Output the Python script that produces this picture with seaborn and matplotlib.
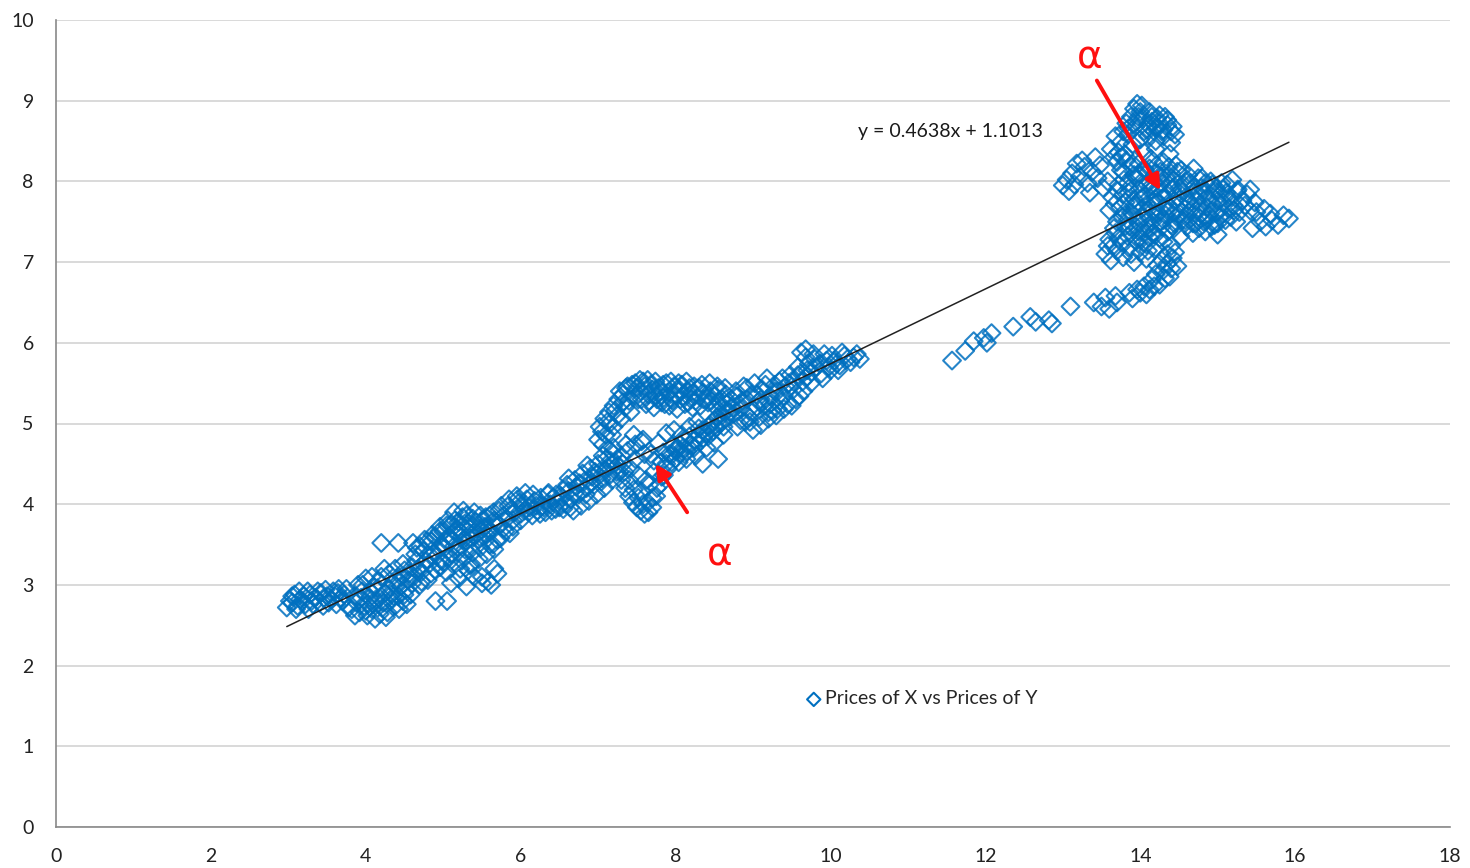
import numpy as np
import pandas as pd
import matplotlib
matplotlib.use("Agg")
import matplotlib.pyplot as plt
import seaborn as sns

# ---- price pairs (X price, Y price), grouped along the path ----
x_start = [2.98, 3.05, 3.10, 3.15, 3.22, 3.28, 3.35, 3.42, 3.50, 3.58, 3.65, 3.72,
           3.02, 3.12, 3.20, 3.30, 3.40, 3.48, 3.55, 3.62, 3.70, 3.78,
           3.08, 3.25, 3.45, 3.60, 3.75,
           3.05, 3.18, 3.32, 3.38, 3.52, 3.68, 3.14, 3.26, 3.46, 3.64]
y_start = [2.72, 2.78, 2.70, 2.82, 2.76, 2.88, 2.84, 2.90, 2.86, 2.92, 2.95, 2.88,
           2.80, 2.74, 2.86, 2.80, 2.78, 2.94, 2.82, 2.76, 2.80, 2.72,
           2.88, 2.92, 2.74, 2.86, 2.95,
           2.86, 2.80, 2.76, 2.92, 2.78, 2.84, 2.92, 2.70, 2.84, 2.90]

x_low = [3.82, 3.88, 3.92, 3.98, 4.02, 4.08, 4.12, 4.18, 4.22, 4.28, 4.32, 4.38, 4.42, 4.48, 4.52, 4.58,
         3.85, 3.95, 4.05, 4.15, 4.25, 4.35, 4.45, 4.55,
         3.90, 4.00, 4.10, 4.20, 4.30, 4.40, 4.50, 4.60,
         4.03, 4.13, 4.23, 4.33, 4.43, 4.53,
         4.20, 4.42, 4.61,
         3.86, 3.94, 4.00, 4.06, 4.10, 4.16, 4.20, 4.26, 4.30, 4.36, 4.40, 4.46, 4.50, 4.56, 4.60,
         3.96, 4.08, 4.24, 4.38, 4.48]
y_low = [2.70, 2.78, 2.66, 2.74, 2.62, 2.70, 2.58, 2.64, 2.72, 2.66, 2.80, 2.74, 2.86, 2.80, 2.94, 2.88,
         2.86, 2.92, 2.84, 2.96, 2.90, 3.02, 2.98, 3.06,
         3.00, 3.08, 2.98, 3.10, 3.14, 3.08, 3.18, 3.22,
         2.76, 2.82, 2.78, 2.88, 2.70, 2.76,
         3.52, 3.52, 3.52,
         2.62, 2.84, 2.68, 2.92, 2.76, 3.04, 2.86, 2.60, 2.94, 2.86, 2.98, 3.10, 2.88, 3.14, 3.02,
         3.00, 3.10, 3.20, 3.20, 3.26]

x_mid1 = [4.62, 4.68, 4.72, 4.78, 4.82, 4.88, 4.92, 4.98, 5.02, 5.08, 5.12, 5.18, 5.22, 5.28, 5.32, 5.38, 5.42, 5.48,
          4.65, 4.75, 4.85, 4.95, 5.05, 5.15, 5.25, 5.35, 5.45,
          4.70, 4.80, 4.90, 5.00, 5.10, 5.20, 5.30, 5.40, 5.50,
          4.66, 4.76, 4.86, 4.96, 5.06, 5.16, 5.26, 5.36, 5.46,
          4.90, 5.05, 5.10, 5.20, 5.30, 5.40, 5.50, 5.22, 5.35,
          4.64, 4.70, 4.74, 4.80, 4.84, 4.90, 4.94, 5.00, 5.04, 5.10, 5.14, 5.20, 5.24, 5.30,
          5.34, 5.40, 5.44, 5.50, 4.72, 4.84, 4.96, 5.08, 5.18, 5.28, 5.38, 5.48, 5.14, 5.26,
          4.98, 5.12, 5.24, 5.36, 5.46, 5.56, 5.66, 5.04, 5.32]
y_mid1 = [3.10, 3.20, 3.16, 3.30, 3.26, 3.40, 3.36, 3.50, 3.46, 3.60, 3.56, 3.70, 3.66, 3.76, 3.72, 3.82, 3.78, 3.86,
          3.30, 3.42, 3.54, 3.66, 3.74, 3.80, 3.84, 3.64, 3.70,
          3.00, 3.06, 3.18, 3.28, 3.38, 3.46, 3.54, 3.60, 3.68,
          3.46, 3.56, 3.62, 3.72, 3.80, 3.66, 3.56, 3.48, 3.56,
          2.80, 2.80, 3.02, 3.08, 2.98, 3.10, 3.02, 3.20, 3.24,
          3.38, 3.48, 3.26, 3.54, 3.36, 3.60, 3.44, 3.66, 3.54, 3.74, 3.48, 3.78, 3.60, 3.86,
          3.58, 3.90, 3.64, 3.80, 3.04, 3.14, 3.22, 3.34, 3.40, 3.44, 3.40, 3.46, 3.90, 3.92,
          3.30, 3.26, 3.30, 3.26, 3.32, 3.38, 3.44, 3.16, 3.18]

x_mid2 = [5.52, 5.58, 5.62, 5.68, 5.72, 5.78, 5.82, 5.88, 5.92, 5.98, 6.02, 6.08, 6.12, 6.18, 6.22, 6.28, 6.32, 6.38, 6.42, 6.48,
          5.55, 5.65, 5.75, 5.85, 5.95, 6.05, 6.15, 6.25, 6.35, 6.45,
          5.60, 5.70, 5.80, 5.90, 6.00,
          5.50, 5.58, 5.66,
          5.54, 5.60, 5.66, 5.72, 5.78, 5.84, 5.90, 5.96, 6.00, 6.06, 6.10, 6.16, 6.20, 6.26, 6.30, 6.36,
          6.40, 6.46, 5.56, 5.64, 5.74, 5.86, 5.70, 5.62]
y_mid2 = [3.60, 3.70, 3.66, 3.78, 3.74, 3.86, 3.82, 3.94, 3.90, 4.02, 3.98, 4.06, 3.96, 4.04, 3.92, 3.98, 3.90, 4.00, 4.08, 4.02,
          3.84, 3.90, 3.98, 4.06, 4.10, 3.92, 3.86, 3.88, 4.12, 3.94,
          3.50, 3.56, 3.66, 3.72, 3.80,
          3.10, 3.04, 3.20,
          3.72, 3.86, 3.80, 3.92, 3.70, 3.98, 3.80, 4.06, 3.88, 4.14, 3.90, 4.12, 3.98, 4.08, 3.96, 4.14,
          3.92, 4.12, 3.62, 3.50, 3.58, 3.64, 3.14, 3.00]

x_mid3 = [6.52, 6.58, 6.62, 6.68, 6.72, 6.78, 6.82, 6.88, 6.92, 6.98, 7.02, 7.08, 7.12, 7.18, 7.22, 7.28,
          6.55, 6.65, 6.75, 6.85, 6.95, 7.05, 7.15, 7.25,
          6.60, 6.70, 6.80, 6.90, 7.00, 7.10, 7.20,
          6.50, 6.56, 6.64, 6.70, 6.76, 6.84, 6.90, 6.96, 7.04, 7.10, 7.16, 7.24, 7.30,
          6.62, 6.86, 7.06, 7.20]
y_mid3 = [4.10, 4.00, 4.16, 3.92, 4.22, 3.98, 4.28, 4.04, 4.34, 4.12, 4.40, 4.20, 4.46, 4.30, 4.52, 4.40,
          3.94, 4.06, 4.12, 4.20, 4.24, 4.32, 4.36, 4.48,
          4.24, 4.30, 4.38, 4.44, 4.50, 4.56, 4.62,
          3.96, 4.18, 3.96, 4.14, 4.26, 4.12, 4.26, 4.40, 4.28, 4.42, 4.54, 4.40, 4.60,
          4.32, 4.48, 4.60, 4.70]

x_upper_arm = [7.00, 7.05, 7.10, 7.15, 7.20, 7.25, 7.30, 7.35, 7.40, 7.45, 7.50, 7.55, 7.60, 7.65, 7.70, 7.75, 7.80,
               7.85, 7.90, 7.95, 8.00, 8.05, 8.10, 8.15, 8.20, 8.25, 8.30, 8.35, 8.40, 8.45, 8.50, 8.55, 8.60, 8.65,
               7.12, 7.22, 7.32, 7.42, 7.52, 7.62, 7.72, 7.82, 7.92, 8.02, 8.12, 8.22, 8.32, 8.42, 8.52, 8.62,
               7.28, 7.38, 7.48, 7.58, 7.68, 7.78, 7.88, 7.98, 8.08, 8.18,
               7.02, 7.08, 7.14, 7.20, 7.26, 7.32, 7.36, 7.44, 7.54, 7.64, 7.74, 7.84, 7.94, 8.04, 8.14,
               8.24, 8.34, 8.44, 8.54, 8.64, 7.56, 7.66, 7.76, 7.86, 7.96, 8.06, 8.16, 8.26, 8.36, 8.46,
               8.56, 8.66, 7.18, 7.06, 7.14]
y_upper_arm = [4.80, 4.90, 4.86, 5.00, 4.96, 5.10, 5.06, 5.20, 5.28, 5.36, 5.44, 5.40, 5.46, 5.36, 5.42, 5.34, 5.40,
               5.32, 5.38, 5.30, 5.36, 5.42, 5.34, 5.40, 5.30, 5.36, 5.44, 5.38, 5.30, 5.40, 5.34, 5.42, 5.30, 5.36,
               5.02, 5.16, 5.26, 5.14, 5.30, 5.24, 5.20, 5.26, 5.22, 5.18, 5.24, 5.20, 5.22, 5.26, 5.20, 5.16,
               5.40, 5.46, 5.50, 5.52, 5.48, 5.44, 5.50, 5.46, 5.48, 5.44,
               4.96, 5.06, 5.14, 5.22, 5.30, 5.36, 5.44, 5.48, 5.54, 5.54, 5.52, 5.48, 5.52, 5.50, 5.52,
               5.46, 5.48, 5.50, 5.46, 5.44, 5.30, 5.28, 5.30, 5.24, 5.28, 5.30, 5.26, 5.28, 5.30, 5.28,
               5.26, 5.24, 4.86, 4.74, 4.68]

x_lower_arm = [7.30, 7.35, 7.40, 7.45, 7.50, 7.55, 7.60, 7.65, 7.70, 7.75, 7.80, 7.85, 7.90, 7.95, 8.00, 8.05, 8.10,
               8.15, 8.20, 8.25, 8.30, 8.35, 8.40, 8.45, 8.50, 8.55, 8.60, 8.65, 8.70,
               7.32, 7.42, 7.52, 7.62, 7.72, 7.82, 7.92, 8.02, 8.12, 8.22, 8.32, 8.42, 8.52, 8.62,
               7.38, 7.48, 7.58, 7.68, 7.78, 7.88, 7.98, 8.08, 8.18, 8.28,
               8.55, 8.35,
               7.34, 7.40, 7.46, 7.52, 7.58, 7.64, 7.70, 7.76, 7.82, 7.88, 7.94, 8.00, 8.06, 8.12, 8.18,
               8.24, 8.30, 8.36, 8.42, 8.48, 8.54, 8.60, 8.66, 7.56, 7.66, 7.72, 7.84, 7.96, 8.04, 8.14,
               8.26, 8.40, 8.50, 8.62, 7.48, 7.60, 7.36, 7.46, 7.56]
y_lower_arm = [4.30, 4.20, 4.10, 4.02, 3.96, 3.92, 3.88, 3.90, 3.96, 4.10, 4.24, 4.36, 4.44, 4.52, 4.56, 4.62, 4.70,
               4.66, 4.74, 4.80, 4.86, 4.92, 4.88, 4.98, 5.04, 5.00, 5.10, 5.06, 5.14,
               4.50, 4.44, 4.36, 4.30, 4.40, 4.52, 4.62, 4.70, 4.80, 4.72, 4.78, 4.84, 4.94, 4.96,
               4.66, 4.74, 4.80, 4.62, 4.76, 4.88, 4.92, 4.86, 4.96, 5.02,
               4.56, 4.50,
               4.40, 4.30, 4.18, 4.08, 4.00, 4.02, 4.08, 4.20, 4.34, 4.50, 4.60, 4.66, 4.74, 4.62, 4.84,
               4.70, 4.94, 4.82, 4.96, 4.90, 5.08, 5.02, 5.16, 4.16, 4.24, 4.54, 4.64, 4.72, 4.52, 4.56,
               4.60, 4.70, 4.76, 4.86, 4.56, 4.62, 4.74, 4.86, 4.78]

x_high = [8.72, 8.78, 8.82, 8.88, 8.92, 8.98, 9.02, 9.08, 9.12, 9.18, 9.22, 9.28, 9.32, 9.38, 9.42, 9.48, 9.52,
          9.58, 9.62, 9.68, 9.72, 9.78,
          8.75, 8.85, 8.95, 9.05, 9.15, 9.25, 9.35, 9.45, 9.55, 9.65, 9.75,
          8.80, 8.90, 9.00, 9.10, 9.20, 9.30, 9.40, 9.50, 9.60, 9.70,
          9.82, 9.88, 9.95, 10.02, 10.08, 10.15, 10.22, 10.30, 10.38, 9.90, 10.00, 10.12,
          8.74, 8.80, 8.86, 8.92, 8.98, 9.04, 9.10, 9.16, 9.22, 9.28, 9.34, 9.40, 9.46, 9.52, 9.58,
          9.64, 9.70, 9.76, 9.80, 9.86, 9.92, 9.98, 10.05, 10.10, 10.18, 10.26, 10.34, 9.62, 9.68,
          8.84, 8.96, 9.08, 9.20, 9.32]
y_high = [5.30, 5.40, 5.24, 5.46, 5.30, 5.36, 5.50, 5.28, 5.42, 5.56, 5.34, 5.48, 5.40, 5.56, 5.46, 5.60, 5.52,
          5.70, 5.62, 5.82, 5.74, 5.86,
          5.12, 5.18, 5.08, 5.20, 5.22, 5.16, 5.28, 5.24, 5.30, 5.40, 5.50,
          4.96, 5.02, 4.92, 4.98, 5.06, 5.10, 5.18, 5.22, 5.34, 5.58,
          5.70, 5.62, 5.78, 5.84, 5.74, 5.88, 5.80, 5.82, 5.80, 5.56, 5.66, 5.72,
          5.20, 5.34, 5.28, 5.44, 5.14, 5.36, 5.30, 5.48, 5.24, 5.40, 5.52, 5.34, 5.50, 5.42, 5.60,
          5.52, 5.66, 5.64, 5.80, 5.74, 5.86, 5.70, 5.78, 5.66, 5.84, 5.76, 5.86, 5.88, 5.92,
          5.04, 5.02, 5.08, 5.14, 5.18]

x_jump = [11.57, 11.74, 11.85, 11.98, 12.02, 12.08, 12.36, 12.58, 12.65, 12.82, 12.86, 13.10]
y_jump = [5.78, 5.90, 6.02, 6.06, 6.00, 6.12, 6.20, 6.32, 6.26, 6.28, 6.24, 6.45]

x_tail = [13.40, 13.50, 13.55, 13.60, 13.70, 13.68, 13.90, 14.00, 14.05, 14.12, 14.15, 14.20,
          14.25, 14.30, 14.35, 14.38, 14.42, 14.45, 14.40, 14.30, 14.35, 14.25, 14.48, 14.20,
          14.28, 14.32, 14.40, 14.22, 14.18, 14.08, 13.96, 13.86]
y_tail = [6.50, 6.45, 6.56, 6.42, 6.50, 6.58, 6.55, 6.62, 6.70, 6.66, 6.78, 6.85,
          6.72, 6.90, 6.98, 6.82, 7.05, 7.12, 7.20, 7.25, 7.10, 7.30, 6.95, 7.18,
          7.02, 6.80, 6.92, 6.96, 6.70, 6.60, 6.66, 6.62]

x_lobe = [13.55, 13.62, 13.70, 13.78, 13.85, 13.92, 14.00, 14.08, 13.60, 13.68, 13.76, 13.84, 13.92, 14.00,
          14.08, 14.16, 13.65, 13.80, 13.95, 14.10,
          13.58, 13.72, 13.88, 14.04, 14.12, 13.66, 13.98]
y_lobe = [7.10, 7.02, 7.14, 7.06, 7.18, 7.00, 7.12, 7.04, 7.28, 7.36, 7.24, 7.32, 7.40, 7.30,
          7.22, 7.36, 7.20, 7.44, 7.26, 7.14,
          7.20, 7.30, 7.10, 7.24, 7.30, 7.42, 7.38]

x_arm = [13.00, 13.08, 13.12, 13.18, 13.22, 13.28, 13.32, 13.38, 13.45, 13.52, 13.58, 13.15, 13.25, 13.35,
         13.48, 13.05, 13.42]
y_arm = [7.95, 7.88, 8.10, 8.22, 8.06, 8.18, 7.98, 8.12, 8.04, 7.92, 8.00, 7.96, 8.26, 7.86,
         8.20, 8.02, 8.30]

x_peak = [13.62, 13.68, 13.72, 13.78, 13.82, 13.88, 13.92, 13.96, 14.00, 14.04, 14.10, 14.15, 14.20, 14.25,
          14.30, 14.35, 14.40, 14.45,
          13.70, 13.80, 13.90, 14.00, 14.10, 14.20, 14.30, 14.40,
          13.85, 13.95, 14.05, 14.15, 14.25, 14.35,
          13.75, 13.90, 14.05, 14.20, 14.38,
          13.74, 13.84, 13.94, 14.02, 14.08, 14.18, 14.28, 14.42, 13.98, 14.12, 14.22, 14.32, 13.66, 13.76]
y_peak = [8.40, 8.56, 8.36, 8.62, 8.72, 8.80, 8.90, 8.96, 8.86, 8.78, 8.70, 8.74, 8.66, 8.72,
          8.64, 8.70, 8.62, 8.58,
          8.24, 8.34, 8.46, 8.52, 8.56, 8.50, 8.56, 8.48,
          8.66, 8.74, 8.62, 8.80, 8.82, 8.76,
          8.14, 8.22, 8.36, 8.40, 8.34,
          8.48, 8.58, 8.68, 8.94, 8.64, 8.62, 8.62, 8.68, 8.80, 8.86, 8.78, 8.80, 8.30, 8.30]

x_core = [13.82, 13.98, 14.14, 14.30, 14.46,
          13.78, 13.92, 14.06, 14.20, 14.34, 14.48, 14.62, 14.80,
          13.72, 13.86, 14.00, 14.14, 14.28, 14.42, 14.56, 14.70, 14.84, 14.98, 15.12, 15.26,
          13.64, 13.78, 13.92, 14.06, 14.20, 14.34, 14.48, 14.62, 14.76, 14.90, 15.04, 15.18, 15.32,
          13.60, 13.74, 13.88, 14.02, 14.16, 14.30, 14.44, 14.58, 14.72, 14.86, 15.00, 15.14, 15.28, 15.42,
          13.70, 13.84, 13.98, 14.12, 14.26, 14.40, 14.54, 14.68, 14.82, 14.96, 15.10, 15.24,
          14.04, 14.20, 14.36, 14.52, 14.68, 14.84, 15.00,
          13.89, 14.05, 14.21, 14.37, 14.53, 14.69,
          13.79, 13.95, 14.11, 14.27, 14.43, 14.59, 14.75, 14.91, 15.05, 15.19,
          13.71, 13.85, 13.99, 14.13, 14.27, 14.41, 14.55, 14.69, 14.83, 14.97, 15.11, 15.25, 15.38,
          13.67, 13.81, 13.95, 14.09, 14.23, 14.37, 14.51, 14.65, 14.79, 14.93, 15.07, 15.21, 15.35,
          13.77, 13.91, 14.05, 14.19, 14.33, 14.47, 14.61, 14.75, 14.89, 15.03, 15.17,
          14.12, 14.28, 14.44, 14.60, 14.76, 14.92,
          14.09, 14.23, 14.37, 14.51, 14.65, 14.79, 14.93, 15.07,
          14.02, 14.16, 14.30, 14.44, 14.58, 14.72, 14.86, 15.00, 15.14,
          14.09, 14.23, 14.37, 14.51, 14.65, 14.79, 14.93, 15.07, 15.21,
          14.16, 14.30, 14.44, 14.58, 14.72, 14.86, 15.00,
          13.84, 13.98, 14.12, 14.26, 14.40, 13.92, 13.80, 13.86, 14.06]
y_core = [8.26, 8.22, 8.28, 8.24, 8.20,
          8.12, 8.08, 8.14, 8.10, 8.06, 8.12, 8.08, 8.04,
          7.96, 7.92, 7.98, 7.94, 7.98, 7.92, 7.96, 7.94, 7.98, 7.92, 7.96, 7.90,
          7.80, 7.84, 7.78, 7.82, 7.78, 7.84, 7.80, 7.76, 7.82, 7.78, 7.84, 7.80, 7.76,
          7.64, 7.68, 7.62, 7.66, 7.64, 7.68, 7.62, 7.66, 7.64, 7.68, 7.62, 7.66, 7.62, 7.64,
          7.50, 7.52, 7.48, 7.54, 7.50, 7.46, 7.52, 7.48, 7.50, 7.46, 7.52, 7.50,
          7.36, 7.34, 7.38, 7.32, 7.36, 7.38, 7.34,
          8.18, 8.16, 8.20, 8.18, 8.14, 8.16,
          8.02, 8.04, 8.00, 8.06, 8.02, 8.00, 8.04, 8.00, 7.98, 8.02,
          7.88, 7.86, 7.90, 7.88, 7.86, 7.90, 7.88, 7.86, 7.90, 7.88, 7.86, 7.88, 7.84,
          7.72, 7.74, 7.70, 7.72, 7.74, 7.70, 7.72, 7.74, 7.70, 7.72, 7.74, 7.70, 7.70,
          7.56, 7.58, 7.56, 7.60, 7.58, 7.56, 7.58, 7.56, 7.58, 7.56, 7.56,
          7.42, 7.44, 7.42, 7.44, 7.42, 7.44,
          7.96, 7.92, 7.96, 7.92, 7.98, 7.92, 7.96, 7.90,
          7.80, 7.76, 7.80, 7.76, 7.80, 7.76, 7.80, 7.76, 7.80,
          7.64, 7.60, 7.64, 7.60, 7.64, 7.60, 7.64, 7.60, 7.64,
          7.50, 7.52, 7.48, 7.52, 7.48, 7.52, 7.48,
          7.98, 8.10, 8.16, 8.12, 8.10, 7.70, 7.58, 7.44, 7.42]

x_right = [15.42, 15.50, 15.55, 15.62, 15.70, 15.78, 15.85, 15.92, 15.48, 15.60, 15.68, 15.45]
y_right = [7.90, 7.62, 7.50, 7.44, 7.52, 7.46, 7.58, 7.54, 7.74, 7.66, 7.60, 7.42]

# Linear trend fitted to the series
slope = 0.4638
intercept = 1.1013

series_label = "Prices of X vs Prices of Y"
trend_label = "y = 0.4638x + 1.1013"

x_ticks = [0, 2, 4, 6, 8, 10, 12, 14, 16, 18]
y_ticks = [0, 1, 2, 3, 4, 5, 6, 7, 8, 9, 10]

xs = (x_start + x_low + x_mid1 + x_mid2 + x_mid3 + x_upper_arm + x_lower_arm + x_high +
      x_jump + x_tail + x_lobe + x_arm + x_peak + x_core + x_right)
ys = (y_start + y_low + y_mid1 + y_mid2 + y_mid3 + y_upper_arm + y_lower_arm + y_high +
      y_jump + y_tail + y_lobe + y_arm + y_peak + y_core + y_right)
df = pd.DataFrame({"X": xs, "Y": ys})

sns.set_style("white")
plt.rcParams["font.family"] = ["Lato", "DejaVu Sans"]

BLUE = "#0070c0"
GRID = "#d9d9d9"
AXIS = "#898989"

fig = plt.figure(figsize=(14.7, 8.68), dpi=100)
ax = fig.add_axes([56 / 1470, 1 - 827 / 868, (1450 - 56) / 1470, (827 - 20) / 868])

ax.set_axisbelow(True)
ax.yaxis.grid(True, color=GRID, linewidth=1.4)
ax.xaxis.grid(False)

sns.scatterplot(data=df, x="X", y="Y", marker="D", s=82, facecolors="none",
                edgecolor=BLUE, linewidth=1.5, alpha=0.85, ax=ax, label=series_label, zorder=3)

# trend line across the observed X range
x_line = np.array([df["X"].min(), df["X"].max()])
sns.lineplot(x=x_line, y=slope * x_line + intercept, color="#222222", linewidth=1.1,
             ax=ax, zorder=4, legend=False)

ax.text(10.36, 8.62, trend_label, fontsize=14, color="#1a1a1a", ha="left", va="center")

# alpha annotations
RED = "#ff1010"
ax.annotate("", xy=(14.26, 7.89), xytext=(13.44, 9.25),
            arrowprops=dict(arrowstyle="-|>,head_length=0.9,head_width=0.45", color=RED, lw=2.8,
                            shrinkA=0, shrinkB=0), zorder=6)
ax.text(13.35, 9.53, "\u03b1", fontsize=28, color=RED, ha="center", va="center", zorder=6,
        family=["DejaVu Sans"])
ax.annotate("", xy=(7.74, 4.50), xytext=(8.15, 3.90),
            arrowprops=dict(arrowstyle="-|>,head_length=0.9,head_width=0.45", color=RED, lw=2.8,
                            shrinkA=0, shrinkB=0), zorder=6)
ax.text(8.57, 3.38, "\u03b1", fontsize=28, color=RED, ha="center", va="center", zorder=6,
        family=["DejaVu Sans"])

ax.set_xlim(0, 18)
ax.set_ylim(0, 10)
ax.set_xticks(x_ticks)
ax.set_yticks(y_ticks)
ax.set_xlabel("")
ax.set_ylabel("")
ax.tick_params(axis="both", which="major", labelsize=14, length=6, width=1, color=AXIS,
               direction="out", labelcolor="#222222")
ax.tick_params(axis="y", pad=10)
ax.tick_params(axis="x", pad=9)
for side in ("top", "right"):
    ax.spines[side].set_visible(False)
for side in ("left", "bottom"):
    ax.spines[side].set_color(AXIS)
    ax.spines[side].set_linewidth(1.2)

leg = ax.legend(loc="center left", bbox_to_anchor=((805 - 56) / 1394, (827 - 699) / 807),
                frameon=False, fontsize=14, handletextpad=0.15, handlelength=0.9,
                markerscale=0.75, borderpad=0, borderaxespad=0)
for h in leg.legend_handles:
    h.set_alpha(1)

fig.savefig("out.png", dpi=100)
